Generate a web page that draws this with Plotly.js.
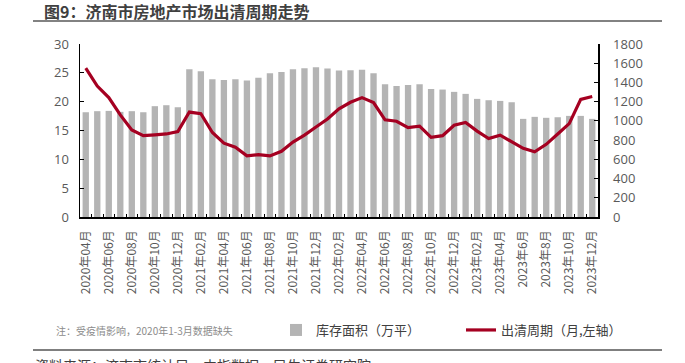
<!DOCTYPE html>
<html>
<head>
<meta charset="utf-8">
<script src="https://cdn.plot.ly/plotly-3.0.1.min.js"></script>
<style>html,body{margin:0;padding:0;background:#fff;}#chart{width:685px;height:363px;}</style>
</head>
<body>
<div id="chart"></div>
<script>
const months = ["2020年04月","2020年05月","2020年06月","2020年07月","2020年08月","2020年09月","2020年10月","2020年11月","2020年12月",
"2021年01月","2021年02月","2021年03月","2021年04月","2021年05月","2021年06月","2021年07月","2021年08月","2021年09月","2021年10月","2021年11月","2021年12月",
"2022年01月","2022年02月","2022年03月","2022年04月","2022年05月","2022年06月","2022年07月","2022年08月","2022年09月","2022年10月","2022年11月","2022年12月",
"2023年01月","2023年02月","2023年03月","2023年04月","2023年5月","2023年6月","2023年7月","2023年8月","2023年9月","2023年10月","2023年11月","2023年12月"];
const tickLabels = ["2020年04月","2020年06月","2020年08月","2020年10月","2020年12月","2021年02月","2021年04月","2021年06月","2021年08月","2021年10月","2021年12月",
"2022年02月","2022年04月","2022年06月","2022年08月","2022年10月","2022年12月","2023年02月","2023年04月","2023年6月","2023年8月","2023年10月","2023年12月"];
const inventory = [1090,1101,1104,1094,1101,1090,1153,1163,1142,1537,1516,1433,1426,1433,1419,1450,1495,1509,1537,1547,1558,1544,1523,1527,1533,1495,1381,1364,1374,1381,1333,1326,1302,1281,1229,1215,1208,1194,1021,1042,1032,1038,1052,1052,1021];
const cycle = [25.8,22.7,20.7,17.7,15.1,14.1,14.25,14.4,14.8,18.2,17.9,14.65,12.8,12.1,10.6,10.8,10.6,11.4,13.0,14.2,15.6,17.0,18.75,19.9,20.7,19.85,16.85,16.6,15.5,15.75,13.8,14.1,15.9,16.4,14.9,13.6,14.2,13.0,11.9,11.3,12.6,14.4,16.2,20.4,20.9];
const seriesNames = ["库存面积（万平）","出清周期（月,左轴）"];
const titleText = "图9：济南市房地产市场出清周期走势";
const noteText = "注：受疫情影响，2020年1-3月数据缺失";
const sourceText = "资料来源：济南市统计局，中指数据，民生证券研究院";

const W = 685, H = 363, ML = 80, MR = 87, MT = 44, MB = 146;
const PW = W - ML - MR, PH = H - MT - MB;
const px2x = p => (p - ML) / PW;
const py2y = p => (H - MB - p) / PH;

const CJK = "'Noto Sans CJK SC', 'Noto Sans', sans-serif";
const NUM = "'Open Sans', 'Noto Sans CJK SC', sans-serif";
const tickText = months.map((m, i) => i % 2 === 0 ? tickLabels[i / 2] : "");

const traces = [
  {type: "bar", x: months, y: inventory, name: seriesNames[0], yaxis: "y",
   marker: {color: "#b4b4b4", line: {width: 0}}, hoverinfo: "x+y"},
  {type: "scatter", mode: "lines", x: months, y: cycle, name: seriesNames[1], yaxis: "y2",
   line: {color: "#a50021", width: 3.2}, hoverinfo: "x+y"}
];

const layout = {
  width: W, height: H,
  margin: {l: ML, r: MR, t: MT, b: MB, pad: 0},
  paper_bgcolor: "#fff", plot_bgcolor: "#fff",
  bargap: 0.45,
  showlegend: true,
  legend: {orientation: "h", x: px2x(276), y: py2y(330), xanchor: "left", yanchor: "middle",
           font: {family: CJK, size: 13, color: "#404040"}, itemwidth: 30, bgcolor: "rgba(0,0,0,0)",
           traceorder: "normal", entrywidth: 140, entrywidthmode: "pixels"},
  xaxis: {type: "category", tickmode: "array", tickvals: months, ticktext: tickText,
          tickangle: -90, tickson: "boundaries", ticks: "inside", ticklen: 3, tickcolor: "#000",
          showline: true, linecolor: "#000", linewidth: 1.5, showgrid: false, zeroline: false,
          tickfont: {family: CJK, size: 12, color: "#595959"}, ticklabelstandoff: 7,
          range: [-0.5, months.length - 0.5], fixedrange: true},
  yaxis: {side: "right", range: [0, 1800], dtick: 200, tick0: 0, ticks: "inside", ticklen: 4,
          tickcolor: "#000", showline: true, linecolor: "#000", linewidth: 1.5, showgrid: false,
          zeroline: false, tickfont: {family: NUM, size: 13, color: "#595959"}, ticklabelstandoff: 11},
  yaxis2: {side: "left", overlaying: "y", range: [0, 30], dtick: 5, tick0: 0, ticks: "inside", ticklen: 4,
          tickcolor: "#000", showline: true, linecolor: "#000", linewidth: 1.5, showgrid: false,
          zeroline: false, tickfont: {family: NUM, size: 13, color: "#595959"}, ticklabelstandoff: 7},
  shapes: [
    {type: "line", xref: "paper", yref: "paper", x0: px2x(33), x1: px2x(662), y0: py2y(21), y1: py2y(21),
     line: {color: "#595959", width: 1.5}},
    {type: "line", xref: "paper", yref: "paper", x0: px2x(33), x1: px2x(662), y0: py2y(350), y1: py2y(350),
     line: {color: "#7f7f7f", width: 2}}
  ],
  annotations: [
    {text: "<b>" + titleText + "</b>", xref: "paper", yref: "paper", x: px2x(42), y: py2y(11),
     xanchor: "left", yanchor: "middle", showarrow: false, font: {family: CJK, size: 16, color: "#404040"}},
    {text: noteText, xref: "paper", yref: "paper", x: px2x(54), y: py2y(330),
     xanchor: "left", yanchor: "middle", showarrow: false, font: {family: CJK, size: 10, color: "#8c8c8c"}},
    {text: sourceText, xref: "paper", yref: "paper", x: px2x(33), y: py2y(353),
     xanchor: "left", yanchor: "top", showarrow: false, font: {family: CJK, size: 14, color: "#404040"}}
  ]
};

Plotly.newPlot("chart", traces, layout, {displayModeBar: false, staticPlot: true});
</script>
</body>
</html>
